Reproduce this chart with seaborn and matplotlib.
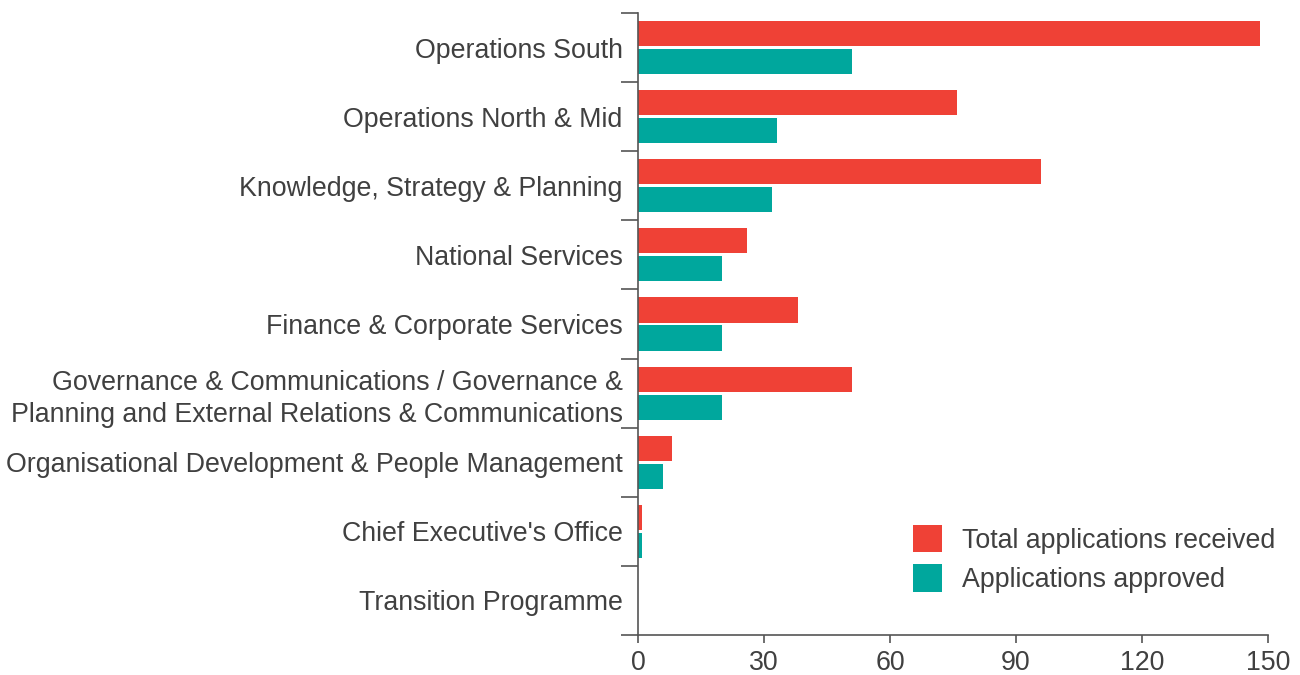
import pandas as pd
import numpy as np
import matplotlib
matplotlib.use("Agg")
import matplotlib.pyplot as plt
import seaborn as sns

# categories (top to bottom) and series values
directorates = ["Operations South", "Operations North & Mid", "Knowledge, Strategy & Planning",
                "National Services", "Finance & Corporate Services",
                "Governance & Communications / Governance &\nPlanning and External Relations & Communications",
                "Organisational Development & People Management", "Chief Executive's Office",
                "Transition Programme"]
received = [148, 76, 96, 26, 38, 51, 8, 1, 0]
approved = [51, 33, 32, 20, 20, 20, 6, 1, 0]
series_names = ["Total applications received", "Applications approved"]
x_ticks = [0, 30, 60, 90, 120, 150]

colors = ["#EF4136", "#00A79D"]
text_col = "#404040"
axis_col = "#555555"
fs = 19.3

sns.set_theme(style="white")
plt.rcParams['font.family'] = ['Liberation Sans', 'DejaVu Sans']

df = pd.DataFrame({
    "directorate": directorates * 2,
    "value": received + approved,
    "series": [series_names[0]] * len(directorates) + [series_names[1]] * len(directorates),
})

fig = plt.figure(figsize=(13, 6.75), dpi=100)
ax = fig.add_axes([638 / 1300, 1 - 635 / 675, 630 / 1300, 622 / 675])

sns.barplot(data=df, y="directorate", x="value", hue="series", order=directorates,
            hue_order=series_names, palette=colors, orient="h", width=0.81, gap=0.1,
            saturation=1, linewidth=0, ax=ax, errorbar=None)

ax.set_xlim(0, 150)
ax.set_ylim(len(directorates) - 0.5, -0.5)
ax.set_xticks(x_ticks)
ax.set_xlabel("")
ax.set_ylabel("")

# category boundary ticks on the y axis
ax.set_yticks(np.arange(len(directorates) + 1) - 0.5, minor=True)
ax.tick_params(axis="y", which="major", length=0, pad=11, labelsize=fs, labelcolor=text_col)
ax.tick_params(axis="y", which="minor", length=12, width=1.2, color=axis_col, left=True)
ax.tick_params(axis="x", which="major", length=6, width=1.2, color=axis_col, bottom=True,
               pad=5, labelsize=fs, labelcolor=text_col)
for lab in ax.get_yticklabels():
    lab.set_linespacing(1.3)

for s in ["top", "right"]:
    ax.spines[s].set_visible(False)
for s in ["left", "bottom"]:
    ax.spines[s].set_color(axis_col)
    ax.spines[s].set_linewidth(1.2)

leg = ax.legend(loc="lower right", bbox_to_anchor=(1.029, 0.05), frameon=False,
                fontsize=fs, handlelength=1.1, handleheight=1.2, handletextpad=0.75,
                labelspacing=0.4, borderaxespad=0)
for t in leg.get_texts():
    t.set_color(text_col)

fig.savefig("out.png", dpi=100)
